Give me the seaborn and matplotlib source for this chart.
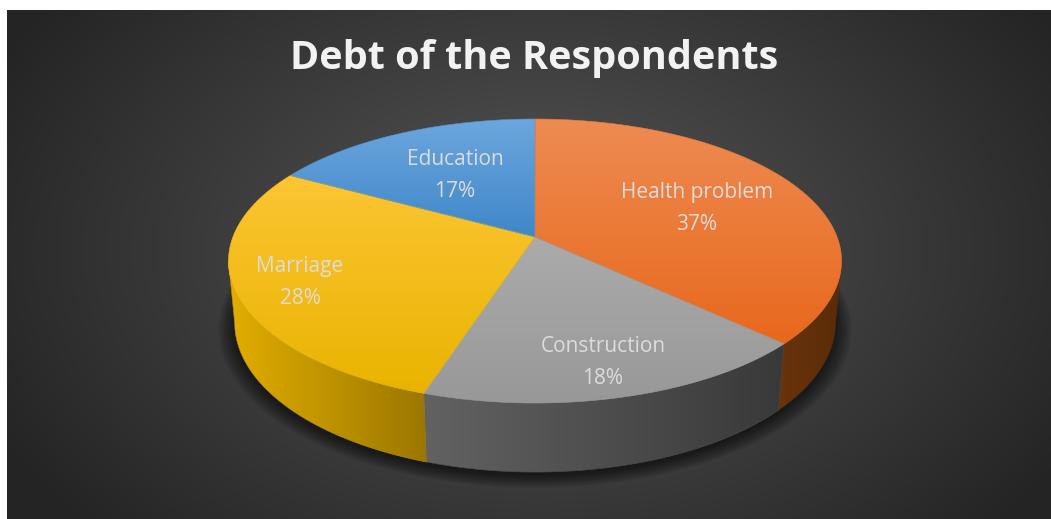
import numpy as np
import matplotlib
matplotlib.use("Agg")
import matplotlib.pyplot as plt
from matplotlib.patches import Polygon
import seaborn as sns

# Data
categories = ["Health problem", "Construction", "Marriage", "Education"]
shares = [37, 18, 28, 17]
title = "Debt of the Respondents"

sns.set_theme(style="dark")
plt.rcParams["font.family"] = ["Open Sans", "DejaVu Sans"]

# Office-like palette: top face light/dark, outer wall light/dark
palette = sns.color_palette(["#ED7D31", "#A5A5A5", "#FFC000", "#5B9BD5"])
top_light = ["#EE8B52", "#ABABAB", "#FCC534", "#6CA6DE"]
top_dark = ["#E8681C", "#989898", "#E9B400", "#3F87C8"]
side_light = ["#6A340C", "#626262", "#E2AE00", "#2F6494"]
side_dark = ["#5A2B08", "#393939", "#9C7700", "#244E75"]

W, H = 1051, 519
fig = plt.figure(figsize=(W / 100, H / 100), dpi=100)
fig.patch.set_facecolor("white")
ax = fig.add_axes([0, 0, 1, 1])
ax.set_xlim(0, W)
ax.set_ylim(H, 0)
ax.axis("off")

# Panel background with radial gradient
px0, py0, px1, py1 = 7, 10, W, H
gx, gy = np.meshgrid(np.linspace(px0, px1, 400), np.linspace(py0, py1, 200))
r = np.sqrt(((gx - 540) / 620) ** 2 + ((gy - 250) / 420) ** 2)
shade = np.clip(0.34 - 0.20 * r, 0.145, 0.34)
bg = np.dstack([shade, shade, shade])
ax.imshow(bg, extent=(px0, px1, py1, py0), zorder=0, interpolation="bilinear")

# Perspective projection of the pie disc
cx, cy = 535.0, 237.0
phi = np.arcsin(0.4566)
dist = 5.26
focal = 1589.0
thick = 0.231


def project(theta, height):
    xs = np.sin(theta)
    zs = np.cos(theta)
    yc = zs * np.sin(phi) + height * np.cos(phi)
    zc = dist + zs * np.cos(phi) - height * np.sin(phi)
    return cx + focal * xs / zc, cy - focal * yc / zc


def gradient_fill(poly_xy, c_from, c_to, direction, z):
    """Fill a polygon with a linear gradient via a clipped image."""
    xs, ys = poly_xy[:, 0], poly_xy[:, 1]
    x0, x1, y0, y1 = xs.min(), xs.max(), ys.min(), ys.max()
    c0 = np.array(matplotlib.colors.to_rgb(c_from))
    c1 = np.array(matplotlib.colors.to_rgb(c_to))
    n = 256
    t = np.linspace(0, 1, n)
    if direction == "v":
        img = (c0[None, None, :] * (1 - t)[:, None, None] + c1[None, None, :] * t[:, None, None])
        img = np.repeat(img, 2, axis=1)
    else:
        img = (c0[None, None, :] * (1 - t)[None, :, None] + c1[None, None, :] * t[None, :, None])
        img = np.repeat(img, 2, axis=0)
    im = ax.imshow(img, extent=(x0, x1, y1, y0), zorder=z, interpolation="bilinear", aspect="auto")
    patch = Polygon(poly_xy, closed=True, facecolor="none", edgecolor="none")
    ax.add_patch(patch)
    im.set_clip_path(patch)
    # thin edge to avoid hairline gaps between pieces
    ax.add_patch(Polygon(poly_xy, closed=True, facecolor="none",
                         edgecolor=matplotlib.colors.to_hex((c0 + c1) / 2), lw=0.4, zorder=z + 0.1))


# Slice angles (clockwise from 12 o'clock)
fracs = np.array(shares, dtype=float) / np.sum(shares)
bounds = np.concatenate([[0], np.cumsum(fracs)]) * 2 * np.pi

# Soft shadow under the disc
full = np.linspace(0, 2 * np.pi, 400)
for k in range(10):
    grow = 1.0 + 0.006 * k
    sx, sy = project(full, -thick)
    sx = cx + (sx - cx) * grow
    sy = 241 + (sy - 241) * grow + 3
    ax.add_patch(Polygon(np.column_stack([sx, sy]), closed=True, facecolor="black",
                         edgecolor="none", alpha=0.07, zorder=1))

# Visible part of the outer wall
vis_lo = np.arccos(-np.cos(phi) / dist)
vis_hi = 2 * np.pi - vis_lo

for i in range(len(categories)):
    a0, a1 = bounds[i], bounds[i + 1]
    lo, hi = max(a0, vis_lo), min(a1, vis_hi)
    if hi > lo:
        th = np.linspace(lo, hi, 120)
        tx, ty = project(th, 0.0)
        bx, by = project(th[::-1], -thick)
        wall = np.column_stack([np.concatenate([tx, bx]), np.concatenate([ty, by])])
        gradient_fill(wall, side_light[i], side_dark[i], "h", 3)

# Top faces
for i in range(len(categories)):
    a0, a1 = bounds[i], bounds[i + 1]
    th = np.linspace(a0, a1, 200)
    ex, ey = project(th, 0.0)
    face = np.column_stack([np.concatenate([[cx], ex]), np.concatenate([[cy], ey])])
    gradient_fill(face, top_light[i], top_dark[i], "v", 5)

# Data labels
label_pos = {
    "Health problem": (697, 208.5),
    "Construction": (603, 362.5),
    "Marriage": (300, 282.5),
    "Education": (455, 175.5),
}
for name, val in zip(categories, shares):
    x, y = label_pos[name]
    ax.text(x, y, f"{name}\n{val}%", ha="center", va="center", color="#DCDCDC",
            fontsize=15, linespacing=1.65, zorder=10)

# Title
ax.text(534, 58, title, ha="center", va="center", color="#F2F2F2", fontsize=28.5,
        fontweight="bold", zorder=10)

fig.savefig("out.png", dpi=100, facecolor=fig.get_facecolor())
